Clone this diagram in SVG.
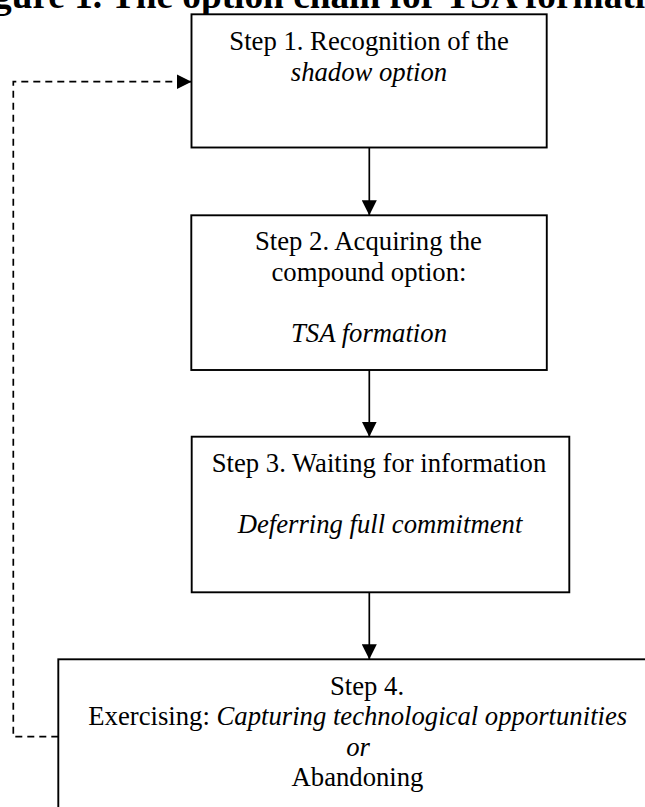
<svg xmlns="http://www.w3.org/2000/svg" width="645" height="807" viewBox="0 0 645 807">
<defs>
<style>
.box{fill:#fff;stroke:#000;stroke-width:1.9}
.t{font-family:"Liberation Serif","Times New Roman",serif;font-size:26.7px;fill:#000}
.c{text-anchor:middle}
.i{font-style:italic}
.title{font-family:"Liberation Serif","Times New Roman",serif;font-size:37.3px;font-weight:bold;fill:#000}
.conn{fill:none;stroke:#000;stroke-width:1.7}
.dash{fill:none;stroke:#000;stroke-width:1.7;stroke-dasharray:7 5}
</style>
<marker id="arrow" viewBox="0 0 15 15" refX="15" refY="7.5" markerWidth="15" markerHeight="15" markerUnits="userSpaceOnUse" orient="auto">
<path d="M0,0 L15,7.5 L0,15 z" fill="#000"/>
</marker>
</defs>
<rect width="645" height="807" fill="#fff"/>
<text class="title" x="-7" y="7.5">gure 1. The option chain for TSA formati</text>
<g id="step1">
<rect class="box" x="191.5" y="14.3" width="355.2" height="133.2"/>
<text class="t" x="229.3" y="50">Step 1. Recognition of the</text>
<text class="t c i" x="369" y="80.5">shadow option</text>
</g>
<g id="step2">
<rect class="box" x="191.3" y="215.3" width="355.5" height="154.7"/>
<text class="t" x="255" y="250">Step 2. Acquiring the</text>
<text class="t c" x="369" y="280.5">compound option:</text>
<text class="t c i" x="369" y="341.5">TSA formation</text>
</g>
<g id="step3">
<rect class="box" x="191.7" y="436.7" width="377.6" height="155.6"/>
<text class="t" x="211.7" y="471.7">Step 3. Waiting for information</text>
<text class="t c i" x="380" y="533">Deferring full commitment</text>
</g>
<g id="step4">
<rect class="box" x="58.3" y="659.3" width="598.5" height="170"/>
<text class="t" x="330" y="694.5">Step 4.</text>
<text class="t" x="88.3" y="725">Exercising: <tspan class="i">Capturing technological opportunities</tspan></text>
<text class="t c i" x="358" y="755.5">or</text>
<text class="t c" x="357.5" y="786">Abandoning</text>
</g>
<g id="connectors">
<path class="conn" d="M369.3,147.5 V215.3" marker-end="url(#arrow)"/>
<path class="conn" d="M369.3,370 V436.7" marker-end="url(#arrow)"/>
<path class="conn" d="M369.3,592.3 V659.3" marker-end="url(#arrow)"/>
<path class="dash" d="M58.3,736.7 H13.3 V81.7 H191.5" marker-end="url(#arrow)"/>
</g>
</svg>
